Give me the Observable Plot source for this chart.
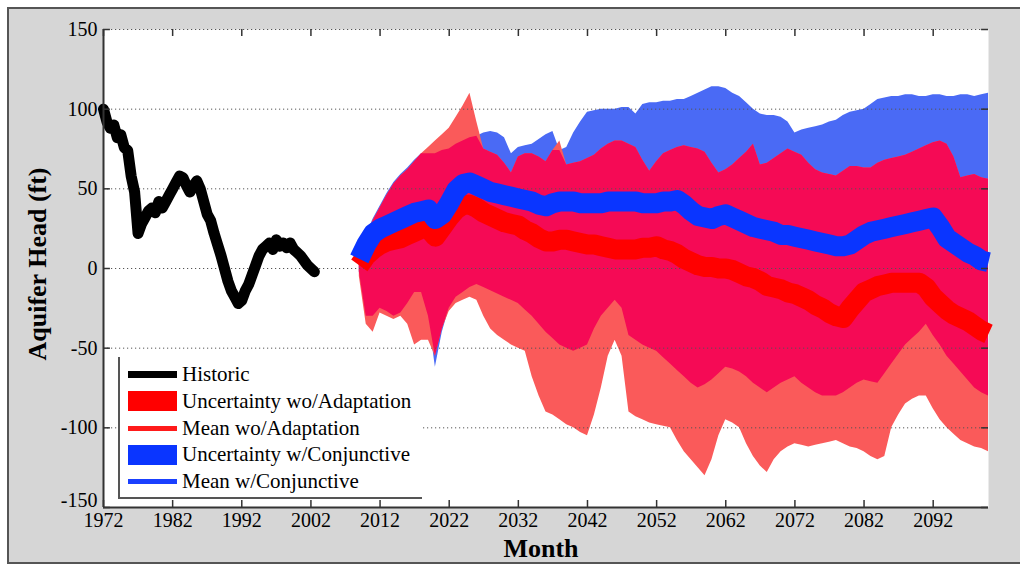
<!DOCTYPE html>
<html>
<head>
<meta charset="utf-8">
<script src="https://cdn.jsdelivr.net/npm/d3@7"></script>
<script src="https://cdn.jsdelivr.net/npm/@observablehq/plot@0.6"></script>
<style>
  html, body { margin: 0; padding: 0; background: #ffffff; }
  #wrap { position: relative; width: 1020px; height: 564px; overflow: hidden; font-family: "Liberation Serif", "Times New Roman", serif; }
  #fig { position: absolute; left: 7px; top: 7px; width: 1020px; height: 553px; background: #d6d6d6; border-top: 2px solid #555; border-left: 2px solid #555; border-bottom: 2px solid #555; }
  #chart { position: absolute; left: 0; top: 0; }
  .ylab { position: absolute; left: 38px; top: 264px; transform: translate(-50%, -50%) rotate(-90deg); font-weight: bold; font-size: 26px; white-space: nowrap; color: #000; }
  .xlab { position: absolute; left: 541px; top: 549px; transform: translate(-50%, -50%); font-weight: bold; font-size: 26px; white-space: nowrap; color: #000; }
  #legend { position: absolute; left: 118px; top: 357px; width: 302px; height: 140px; background: #fff; border-left: 2px solid #555; border-bottom: 2px solid #555; }
  .row { position: absolute; left: 8px; height: 27px; display: flex; align-items: center; font-size: 21px; color: #000; white-space: nowrap; }
  .sw { width: 49px; margin-right: 5px; display: flex; align-items: center; justify-content: center; height: 27px; }
</style>
</head>
<body>
<div id="wrap">
  <div id="fig"></div>
  <div id="chart"></div>
  <div class="ylab">Aquifer Head (ft)</div>
  <div class="xlab">Month</div>
  <div id="legend"></div>
</div>
<script>
// ---------- data ----------
const xTicks = [1972, 1982, 1992, 2002, 2012, 2022, 2032, 2042, 2052, 2062, 2072, 2082, 2092];
const yTicks = [-150, -100, -50, 0, 50, 100, 150];

const histYears = [1972.0,1972.5,1973.0,1973.5,1974.0,1974.5,1975.0,1975.5,1976.0,1976.5,1977.0,1977.5,1978.0,1978.5,1979.0,1979.5,1980.0,1980.5,1981.0,1981.5,1982.0,1982.5,1983.0,1983.5,1984.0,1984.5,1985.0,1985.5,1986.0,1986.5,1987.0,1987.5,1988.0,1988.5,1989.0,1989.5,1990.0,1990.5,1991.0,1991.5,1992.0,1992.5,1993.0,1993.5,1994.0,1994.5,1995.0,1995.5,1996.0,1996.5,1997.0,1997.5,1998.0,1998.5,1999.0,1999.5,2000.0,2000.5,2001.0,2001.5,2002.0,2002.5];
const histValues = [100,92,88,90,82,84,76,74,58,48,22,28,32,36,38,35,42,38,42,46,50,54,58,57,52,48,52,55,50,42,34,30,22,15,8,0,-8,-14,-18,-22,-20,-14,-10,-4,2,8,12,14,16,12,18,14,16,13,16,12,10,8,5,2,0,-2];

const projYears = d3.range(2009, 2101);
// Uncertainty w/Conjunctive: upper and lower edges
const blueUpper = [6,21,31,39,47,54,59,63,68,72, 72,72,74,75,78,80,82,83,85,86, 85,82,72,76,77,78,81,84,86,74, 76,85,92,98,99,100,100,100,101,101, 97,103,104,104,105,105,106,106,108,110, 112,114,114,113,110,108,104,100,97,96, 96,95,92,85,87,88,89,90,92,93, 96,98,99,100,103,106,107,108,108,109, 109,108,108,109,109,108,108,109,109,108, 109,110];
const blueLower = [-2,-30,-30,-25,-27,-30,-28,-22,-15,-15, -30,-62,-40,-25,-18,-15,-12,-10,-12,-14, -16,-18,-20,-22,-26,-30,-35,-40,-44,-48, -50,-52,-50,-48,-38,-30,-25,-20,-25,-42, -45,-48,-50,-52,-56,-60,-64,-68,-72,-75, -73,-70,-66,-62,-63,-65,-68,-72,-75,-78, -75,-72,-70,-68,-72,-75,-78,-80,-80,-80, -78,-75,-72,-70,-71,-72,-66,-60,-54,-48, -44,-40,-35,-42,-48,-55,-60,-65,-70,-75, -78,-80];
// Uncertainty wo/Adaptation: upper and lower edges
const redUpper = [5,20,30,38,46,53,58,62,67,72, 76,80,84,88,95,102,110,92,75,73, 71,66,60,70,72,72,70,67,74,80, 65,66,67,69,71,75,78,80,80,78, 76,68,61,67,72,74,76,77,76,75, 73,66,60,62,65,69,73,78,65,66, 69,72,75,73,71,66,62,60,59,58, 61,64,64,63,63,66,68,69,70,71, 73,75,77,79,80,78,70,57,58,59, 57,56];
const redLower = [-5,-35,-40,-28,-30,-32,-30,-35,-48,-45, -45,-55,-38,-27,-22,-20,-18,-20,-30,-38, -42,-45,-48,-50,-52,-68,-80,-90,-92,-95, -98,-100,-103,-105,-92,-75,-55,-45,-55,-90, -93,-95,-97,-98,-99,-100,-108,-115,-120,-125, -130,-120,-105,-95,-97,-100,-110,-118,-124,-128, -120,-115,-112,-110,-111,-112,-111,-110,-109,-108, -110,-112,-113,-115,-118,-120,-118,-100,-92,-85, -82,-80,-80,-88,-95,-100,-104,-108,-110,-112, -113,-115];
// Means
const blueMean = [6,15,22,25,27,29,31,33,35,36, 37,31,34,41,49,53,54,52,50,48, 47,46,45,44,43,42,40,39,41,42, 42,42,41,41,41,41,42,42,42,42, 42,41,41,41,42,42,43,40,36,33, 32,31,33,34,32,30,28,26,25,24, 23,21,21,20,19,18,17,16,15,14, 14,15,18,21,23,24,25,26,27,28, 29,30,31,32,26,19,16,13,10,8, 5,4];
const redMean = [2,8,12,15,17,18,19,21,23,25, 25,20,26,32,37,40,40,38,35,33, 31,29,28,27,24,22,19,17,17,18, 18,17,16,15,15,14,13,12,12,12, 12,13,13,14,12,11,9,6,4,2, 1,1,0,0,-1,-3,-5,-6,-8,-11, -12,-13,-15,-16,-18,-20,-23,-25,-28,-30, -31,-25,-20,-15,-13,-11,-10,-9,-9,-9, -9,-9,-12,-18,-22,-26,-29,-31,-33,-36, -39,-41];

// ---------- tables ----------
const hist = histYears.map((t, i) => ({t, v: histValues[i]}));
const proj = projYears.map((t, i) => {
  const lo = Math.max(blueLower[i], redLower[i]);
  const hi = Math.min(blueUpper[i], redUpper[i]);
  return {t, bu: blueUpper[i], bl: blueLower[i], ru: redUpper[i], rl: redLower[i],
          olo: lo, ohi: Math.max(lo, hi), bm: blueMean[i], rm: redMean[i]};
});

const BLUE = "#4a6af5", SALMON = "#fa5a5a", CRIMSON = "#f50a55", BLUE_MEAN = "#0a35ff", RED_MEAN = "#ff0000";
const AX = "#333";

const chart = Plot.plot({
  width: 1020,
  height: 564,
  marginLeft: 103,
  marginRight: 32,
  marginTop: 29,
  marginBottom: 57,
  x: {domain: [1972, 2100]},
  y: {domain: [-150, 150]},
  style: {background: "transparent", fontFamily: "'Liberation Serif', 'Times New Roman', serif", fontSize: "20px", color: "#000"},
  marks: [
    Plot.frame({fill: "white", stroke: null}),
    Plot.areaY(proj, {x: "t", y1: "bl", y2: "bu", fill: BLUE}),
    Plot.areaY(proj, {x: "t", y1: "rl", y2: "ru", fill: SALMON}),
    Plot.areaY(proj, {x: "t", y1: "olo", y2: "ohi", fill: CRIMSON}),
    Plot.ruleY(yTicks.filter(d => d > -150), {stroke: "#555", strokeDasharray: "1.2,2.8", strokeWidth: 1}),
    Plot.line(proj, {x: "t", y: "rm", stroke: RED_MEAN, strokeWidth: 20, strokeLinejoin: "round", strokeLinecap: "butt"}),
    Plot.line(proj, {x: "t", y: "bm", stroke: BLUE_MEAN, strokeWidth: 20, strokeLinejoin: "round", strokeLinecap: "butt"}),
    Plot.line(hist, {x: "t", y: "v", stroke: "#000", strokeWidth: 11, strokeLinejoin: "round"}),
    // axis lines
    Plot.ruleX([1972], {y1: -150, y2: 150, stroke: AX, strokeWidth: 2}),
    Plot.ruleY([-150], {x1: 1972, x2: 2100, stroke: AX, strokeWidth: 2}),
    // inward tick marks
    Plot.ruleX(xTicks, {x: d => d, y1: -150, y2: -145.6, stroke: AX, strokeWidth: 1.5}),
    Plot.ruleX(xTicks, {x: d => d, y1: 150, y2: 145.6, stroke: AX, strokeWidth: 1.5}),
    Plot.ruleY(yTicks, {y: d => d, x1: 1972, x2: 1973, stroke: AX, strokeWidth: 1.5}),
    Plot.ruleY(yTicks, {y: d => d, x1: 2099, x2: 2100, stroke: AX, strokeWidth: 1.5}),
    Plot.axisX(xTicks, {tickSize: 0, tickPadding: 5, tickFormat: d => String(d), label: null, fontSize: 20}),
    Plot.axisY(yTicks.filter(d => d > -150), {tickSize: 0, tickPadding: 6, tickFormat: d => String(d), label: null, fontSize: 20}),
    Plot.axisY([-150], {tickSize: 0, tickPadding: 6, dy: -7, tickFormat: d => String(d), label: null, fontSize: 20})
  ]
});
document.getElementById("chart").appendChild(chart);

// ---------- legend ----------
const legendItems = [
  {label: "Historic", color: "#000", kind: "line", w: 7},
  {label: "Uncertainty wo/Adaptation", color: "#ff0000", kind: "rect", w: 20},
  {label: "Mean wo/Adaptation", color: "#ff1a1a", kind: "line", w: 5},
  {label: "Uncertainty w/Conjunctive", color: "#0a35ff", kind: "rect", w: 20},
  {label: "Mean w/Conjunctive", color: "#1a40ff", kind: "line", w: 5}
];
const legend = document.getElementById("legend");
legendItems.forEach((it, i) => {
  const row = document.createElement("div");
  row.className = "row";
  row.style.top = (4 + i * 26.8) + "px";
  const sw = document.createElement("div");
  sw.className = "sw";
  const bar = document.createElement("div");
  bar.style.width = "49px";
  bar.style.height = it.w + "px";
  bar.style.background = it.color;
  sw.appendChild(bar);
  const tx = document.createElement("span");
  tx.textContent = it.label;
  row.appendChild(sw);
  row.appendChild(tx);
  legend.appendChild(row);
});
</script>
</body>
</html>
